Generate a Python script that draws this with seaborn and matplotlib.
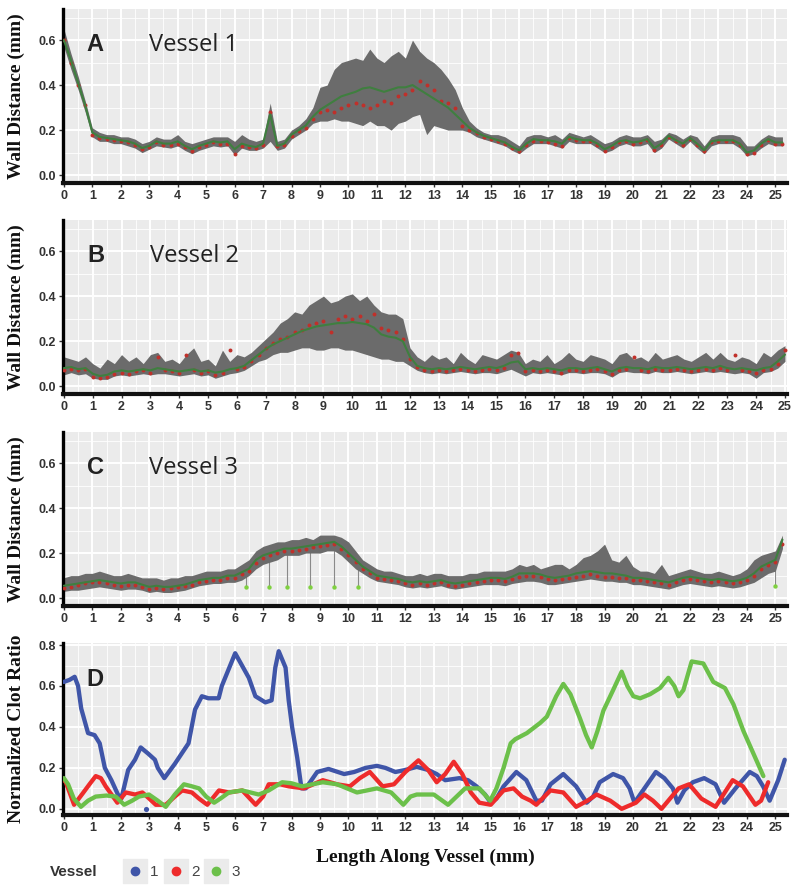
import numpy as np
import pandas as pd
import seaborn as sns
import matplotlib.pyplot as plt
from matplotlib.lines import Line2D
from matplotlib.ticker import MultipleLocator

# -----------------------------------------------------------------------------
# Wall distance along vessels (mm), sampled every 0.25 mm (read off the figure)
# -----------------------------------------------------------------------------

step = 0.25

# Vessel 1 (panel A), 0 .. 25.25 mm
a_mean = [0.60, 0.51, 0.41, 0.31, 0.19, 0.17, 0.165, 0.16, 0.155, 0.15,
          0.14, 0.12, 0.13, 0.15, 0.14, 0.14, 0.15, 0.13, 0.115, 0.13,
          0.14, 0.15, 0.145, 0.15, 0.115, 0.14, 0.13, 0.125, 0.14, 0.27,
          0.13, 0.14, 0.18, 0.20, 0.22, 0.26, 0.29, 0.31, 0.33, 0.35,
          0.36, 0.37, 0.385, 0.39, 0.38, 0.37, 0.38, 0.39, 0.39, 0.40,
          0.38, 0.36, 0.34, 0.32, 0.30, 0.27, 0.24, 0.21, 0.19, 0.175,
          0.165, 0.155, 0.145, 0.125, 0.11, 0.14, 0.16, 0.155, 0.155, 0.15,
          0.14, 0.17, 0.16, 0.155, 0.155, 0.14, 0.115, 0.13, 0.15, 0.155,
          0.145, 0.15, 0.16, 0.12, 0.14, 0.175, 0.155, 0.14, 0.165, 0.14,
          0.11, 0.15, 0.155, 0.155, 0.155, 0.14, 0.10, 0.11, 0.14, 0.16,
          0.145, 0.145]
a_hi = [0.65, 0.54, 0.44, 0.33, 0.21, 0.19, 0.18, 0.18, 0.17, 0.17,
        0.16, 0.14, 0.15, 0.17, 0.16, 0.16, 0.18, 0.15, 0.14, 0.15,
        0.16, 0.17, 0.17, 0.17, 0.15, 0.18, 0.16, 0.15, 0.16, 0.32,
        0.15, 0.16, 0.20, 0.22, 0.25, 0.30, 0.39, 0.40, 0.47, 0.50,
        0.51, 0.52, 0.51, 0.56, 0.52, 0.50, 0.53, 0.55, 0.52, 0.60,
        0.55, 0.52, 0.50, 0.47, 0.43, 0.38, 0.30, 0.24, 0.21, 0.19,
        0.18, 0.18, 0.17, 0.15, 0.13, 0.17, 0.18, 0.18, 0.17, 0.18,
        0.16, 0.19, 0.18, 0.17, 0.18, 0.16, 0.14, 0.15, 0.17, 0.18,
        0.17, 0.17, 0.18, 0.15, 0.16, 0.19, 0.18, 0.16, 0.18, 0.17,
        0.13, 0.17, 0.18, 0.18, 0.18, 0.17, 0.13, 0.13, 0.16, 0.18,
        0.17, 0.17]
a_lo = [0.57, 0.47, 0.38, 0.28, 0.17, 0.15, 0.15, 0.14, 0.14, 0.13,
        0.12, 0.10, 0.115, 0.13, 0.125, 0.12, 0.13, 0.11, 0.095, 0.11,
        0.12, 0.13, 0.125, 0.13, 0.09, 0.12, 0.11, 0.11, 0.12, 0.15,
        0.11, 0.12, 0.16, 0.18, 0.20, 0.23, 0.24, 0.24, 0.25, 0.24,
        0.24, 0.23, 0.22, 0.24, 0.22, 0.22, 0.20, 0.23, 0.24, 0.26,
        0.27, 0.18, 0.22, 0.21, 0.20, 0.20, 0.20, 0.19, 0.17, 0.16,
        0.15, 0.14, 0.13, 0.11, 0.095, 0.12, 0.14, 0.14, 0.14, 0.13,
        0.12, 0.15, 0.14, 0.14, 0.14, 0.12, 0.10, 0.11, 0.13, 0.14,
        0.13, 0.13, 0.14, 0.10, 0.12, 0.16, 0.14, 0.12, 0.15, 0.12,
        0.095, 0.13, 0.14, 0.14, 0.14, 0.12, 0.085, 0.095, 0.12, 0.14,
        0.13, 0.13]
a_red = [0.60, 0.50, 0.40, 0.31, 0.18, 0.165, 0.16, 0.155, 0.15, 0.145,
         0.135, 0.115, 0.125, 0.145, 0.135, 0.135, 0.14, 0.125, 0.105, 0.125,
         0.135, 0.145, 0.14, 0.14, 0.095, 0.13, 0.125, 0.12, 0.135, 0.28,
         0.13, 0.135, 0.175, 0.195, 0.21, 0.25, 0.28, 0.29, 0.28, 0.30,
         0.31, 0.32, 0.31, 0.30, 0.31, 0.33, 0.32, 0.35, 0.36, 0.38,
         0.42, 0.40, 0.38, 0.33, 0.32, 0.30, 0.22, 0.20, 0.185, 0.17,
         0.16, 0.15, 0.14, 0.12, 0.105, 0.135, 0.15, 0.15, 0.145, 0.14,
         0.13, 0.165, 0.155, 0.15, 0.15, 0.135, 0.105, 0.125, 0.145, 0.15,
         0.14, 0.145, 0.155, 0.11, 0.135, 0.17, 0.15, 0.135, 0.16, 0.135,
         0.105, 0.145, 0.15, 0.15, 0.15, 0.135, 0.095, 0.10, 0.135, 0.155,
         0.14, 0.14]

# Vessel 2 (panel B), 0 .. 25 mm
b_mean = [0.08, 0.085, 0.075, 0.08, 0.055, 0.045, 0.05, 0.065, 0.07, 0.065,
          0.07, 0.075, 0.07, 0.08, 0.075, 0.07, 0.065, 0.07, 0.075, 0.065,
          0.07, 0.06, 0.065, 0.075, 0.08, 0.09, 0.115, 0.14, 0.165, 0.185,
          0.20, 0.215, 0.23, 0.245, 0.255, 0.265, 0.27, 0.275, 0.28, 0.28,
          0.285, 0.28, 0.275, 0.26, 0.23, 0.22, 0.215, 0.20, 0.13, 0.09,
          0.08, 0.075, 0.08, 0.075, 0.08, 0.085, 0.08, 0.075, 0.08, 0.085,
          0.08, 0.09, 0.105, 0.11, 0.075, 0.08, 0.075, 0.08, 0.075, 0.07,
          0.08, 0.08, 0.075, 0.08, 0.085, 0.075, 0.065, 0.08, 0.085, 0.08,
          0.08, 0.075, 0.085, 0.08, 0.08, 0.085, 0.08, 0.075, 0.08, 0.085,
          0.08, 0.09, 0.08, 0.075, 0.08, 0.075, 0.07, 0.08, 0.085, 0.11,
          0.14]
b_hi = [0.13, 0.12, 0.11, 0.13, 0.10, 0.08, 0.12, 0.10, 0.14, 0.11,
        0.13, 0.10, 0.14, 0.15, 0.11, 0.12, 0.10, 0.14, 0.17, 0.11,
        0.12, 0.09, 0.16, 0.11, 0.14, 0.13, 0.15, 0.18, 0.21, 0.24,
        0.28, 0.30, 0.33, 0.32, 0.36, 0.38, 0.40, 0.37, 0.38, 0.40,
        0.41, 0.38, 0.40, 0.36, 0.33, 0.32, 0.32, 0.30, 0.17, 0.13,
        0.11, 0.14, 0.12, 0.13, 0.10, 0.15, 0.12, 0.10, 0.14, 0.13,
        0.12, 0.14, 0.16, 0.15, 0.10, 0.12, 0.11, 0.14, 0.10, 0.12,
        0.15, 0.12, 0.11, 0.14, 0.13, 0.12, 0.10, 0.14, 0.15, 0.12,
        0.13, 0.11, 0.15, 0.12, 0.13, 0.14, 0.12, 0.11, 0.13, 0.15,
        0.12, 0.15, 0.12, 0.11, 0.13, 0.12, 0.10, 0.15, 0.13, 0.16,
        0.18]
b_lo = [0.05, 0.06, 0.05, 0.055, 0.035, 0.03, 0.03, 0.045, 0.05, 0.045,
        0.05, 0.055, 0.05, 0.055, 0.055, 0.05, 0.045, 0.05, 0.055, 0.045,
        0.05, 0.035, 0.045, 0.055, 0.06, 0.07, 0.09, 0.11, 0.12, 0.14,
        0.15, 0.15, 0.16, 0.17, 0.17, 0.16, 0.16, 0.17, 0.17, 0.16,
        0.16, 0.15, 0.14, 0.13, 0.12, 0.12, 0.11, 0.11, 0.09, 0.07,
        0.06, 0.055, 0.06, 0.055, 0.06, 0.065, 0.06, 0.055, 0.06, 0.06,
        0.055, 0.065, 0.075, 0.06, 0.045, 0.06, 0.055, 0.06, 0.055, 0.05,
        0.06, 0.06, 0.055, 0.06, 0.06, 0.055, 0.04, 0.06, 0.065, 0.06,
        0.06, 0.055, 0.065, 0.06, 0.06, 0.065, 0.06, 0.055, 0.06, 0.065,
        0.06, 0.065, 0.06, 0.055, 0.06, 0.055, 0.035, 0.06, 0.065, 0.08,
        0.11]
b_red = [0.07, 0.075, 0.07, 0.075, 0.04, 0.035, 0.04, 0.055, 0.06, 0.055,
         0.065, 0.07, 0.06, 0.13, 0.07, 0.065, 0.06, 0.14, 0.07, 0.06,
         0.065, 0.05, 0.06, 0.16, 0.075, 0.085, 0.11, 0.14, 0.17, 0.19,
         0.21, 0.22, 0.24, 0.25, 0.27, 0.28, 0.29, 0.24, 0.30, 0.31,
         0.30, 0.31, 0.29, 0.32, 0.26, 0.25, 0.24, 0.21, 0.12, 0.085,
         0.07, 0.065, 0.07, 0.065, 0.07, 0.075, 0.07, 0.065, 0.07, 0.075,
         0.07, 0.08, 0.14, 0.145, 0.065, 0.07, 0.065, 0.07, 0.065, 0.06,
         0.07, 0.07, 0.065, 0.07, 0.075, 0.065, 0.055, 0.07, 0.075, 0.13,
         0.07, 0.065, 0.075, 0.07, 0.07, 0.075, 0.07, 0.065, 0.07, 0.075,
         0.07, 0.08, 0.07, 0.14, 0.07, 0.065, 0.06, 0.07, 0.075, 0.10,
         0.16]

# Vessel 3 (panel C), 0 .. 25.25 mm
c_mean = [0.055, 0.06, 0.065, 0.07, 0.075, 0.08, 0.075, 0.07, 0.065, 0.07,
          0.07, 0.06, 0.05, 0.055, 0.05, 0.05, 0.055, 0.06, 0.07, 0.08,
          0.085, 0.09, 0.09, 0.10, 0.10, 0.115, 0.13, 0.17, 0.19, 0.20,
          0.21, 0.22, 0.22, 0.225, 0.23, 0.235, 0.24, 0.245, 0.25, 0.23,
          0.20, 0.17, 0.14, 0.12, 0.10, 0.095, 0.09, 0.085, 0.075, 0.07,
          0.075, 0.07, 0.075, 0.08, 0.07, 0.065, 0.07, 0.075, 0.08, 0.085,
          0.09, 0.09, 0.085, 0.095, 0.11, 0.11, 0.11, 0.105, 0.095, 0.09,
          0.095, 0.10, 0.11, 0.115, 0.12, 0.115, 0.11, 0.11, 0.105, 0.10,
          0.09, 0.09, 0.085, 0.08, 0.075, 0.07, 0.08, 0.09, 0.095, 0.09,
          0.085, 0.08, 0.085, 0.08, 0.075, 0.08, 0.09, 0.11, 0.14, 0.155,
          0.17, 0.26]
c_hi = [0.09, 0.10, 0.10, 0.11, 0.11, 0.12, 0.11, 0.10, 0.10, 0.11,
        0.10, 0.09, 0.09, 0.09, 0.08, 0.09, 0.09, 0.10, 0.10, 0.11,
        0.12, 0.12, 0.12, 0.13, 0.13, 0.15, 0.17, 0.21, 0.23, 0.24,
        0.25, 0.25, 0.26, 0.26, 0.27, 0.26, 0.28, 0.28, 0.28, 0.27,
        0.25, 0.21, 0.17, 0.15, 0.13, 0.12, 0.12, 0.11, 0.10, 0.10,
        0.11, 0.10, 0.11, 0.11, 0.10, 0.10, 0.10, 0.11, 0.11, 0.12,
        0.12, 0.12, 0.12, 0.13, 0.15, 0.14, 0.15, 0.13, 0.14, 0.15,
        0.15, 0.13, 0.15, 0.18, 0.19, 0.21, 0.24, 0.17, 0.16, 0.19,
        0.14, 0.12, 0.12, 0.11, 0.15, 0.10, 0.11, 0.12, 0.13, 0.12,
        0.11, 0.11, 0.12, 0.11, 0.10, 0.11, 0.13, 0.17, 0.19, 0.20,
        0.21, 0.28]
c_lo = [0.03, 0.035, 0.035, 0.04, 0.045, 0.05, 0.045, 0.04, 0.035, 0.04,
        0.04, 0.035, 0.025, 0.03, 0.025, 0.025, 0.03, 0.035, 0.045, 0.055,
        0.06, 0.065, 0.065, 0.07, 0.07, 0.08, 0.10, 0.13, 0.15, 0.16,
        0.17, 0.19, 0.19, 0.19, 0.20, 0.20, 0.20, 0.21, 0.21, 0.19,
        0.16, 0.13, 0.11, 0.09, 0.075, 0.07, 0.065, 0.06, 0.05, 0.045,
        0.05, 0.045, 0.05, 0.055, 0.045, 0.04, 0.045, 0.05, 0.055, 0.06,
        0.06, 0.06, 0.055, 0.065, 0.07, 0.075, 0.075, 0.07, 0.06, 0.06,
        0.065, 0.07, 0.075, 0.08, 0.085, 0.08, 0.075, 0.075, 0.07, 0.07,
        0.06, 0.06, 0.055, 0.05, 0.045, 0.04, 0.05, 0.06, 0.065, 0.06,
        0.055, 0.05, 0.055, 0.05, 0.045, 0.05, 0.06, 0.07, 0.09, 0.11,
        0.12, 0.22]
c_red = [0.045, 0.05, 0.06, 0.065, 0.07, 0.07, 0.065, 0.06, 0.055, 0.06,
         0.06, 0.05, 0.04, 0.045, 0.04, 0.045, 0.05, 0.055, 0.06, 0.07,
         0.075, 0.08, 0.08, 0.09, 0.09, 0.105, 0.12, 0.155, 0.18, 0.19,
         0.20, 0.21, 0.21, 0.215, 0.22, 0.225, 0.23, 0.235, 0.24, 0.22,
         0.19, 0.16, 0.13, 0.11, 0.09, 0.085, 0.08, 0.075, 0.065, 0.06,
         0.065, 0.06, 0.065, 0.07, 0.06, 0.055, 0.06, 0.065, 0.07, 0.075,
         0.08, 0.08, 0.075, 0.085, 0.095, 0.10, 0.10, 0.095, 0.085, 0.08,
         0.085, 0.09, 0.095, 0.10, 0.105, 0.10, 0.095, 0.095, 0.09, 0.09,
         0.08, 0.08, 0.075, 0.07, 0.065, 0.06, 0.07, 0.08, 0.085, 0.08,
         0.075, 0.07, 0.075, 0.07, 0.065, 0.07, 0.08, 0.10, 0.13, 0.145,
         0.16, 0.24]
# drop-outs in vessel 3 (points that fall to the floor)
c_drop_x = [6.4, 7.2, 7.85, 8.65, 9.5, 10.35, 25.0]
c_drop_y = [0.05, 0.05, 0.05, 0.05, 0.05, 0.05, 0.055]
c_drop_top = [0.12, 0.20, 0.22, 0.235, 0.25, 0.15, 0.17]

# -----------------------------------------------------------------------------
# Normalized clot ratio (panel D)
# -----------------------------------------------------------------------------

clot1_x = [0.0, 0.2, 0.38, 0.5, 0.61, 0.85, 1.08, 1.26, 1.44, 1.67, 1.9, 2.02,
           2.26, 2.5, 2.7, 2.96, 3.2, 3.3, 3.53, 3.9, 4.38, 4.61, 4.85, 5.08,
           5.44, 5.55, 6.02, 6.5, 6.73, 7.08, 7.3, 7.43, 7.55, 7.79, 7.9, 8.02,
           8.2, 8.35, 8.5, 8.7, 8.9, 9.3, 9.85, 10.2, 10.6, 11.0, 11.3, 11.65,
           12.0, 12.4, 12.8, 13.1, 13.4, 13.9, 14.2, 14.5, 14.8, 15.0, 15.2,
           15.45, 15.9, 16.25, 16.6, 16.8, 17.1, 17.55, 18.0, 18.37, 18.6,
           18.83, 19.3, 19.65, 19.88, 20.05, 20.3, 20.8, 21.1, 21.4, 21.56,
           21.8, 22.1, 22.5, 22.9, 23.2, 23.6, 24.1, 24.35, 24.57, 24.8, 25.1,
           25.33]
clot1_y = [0.62, 0.63, 0.645, 0.60, 0.49, 0.37, 0.36, 0.32, 0.20, 0.14, 0.07, 0.05,
           0.19, 0.24, 0.30, 0.27, 0.24, 0.20, 0.15, 0.22, 0.32, 0.485, 0.55, 0.54,
           0.54, 0.60, 0.76, 0.64, 0.55, 0.52, 0.53, 0.69, 0.77, 0.69, 0.53, 0.40,
           0.25, 0.10, 0.10, 0.14, 0.18, 0.195, 0.17, 0.18, 0.20, 0.21, 0.20, 0.18,
           0.19, 0.205, 0.19, 0.17, 0.14, 0.15, 0.14, 0.11, 0.07, 0.03, 0.05,
           0.11, 0.18, 0.14, 0.04, 0.04, 0.12, 0.17, 0.11, 0.03, 0.06,
           0.13, 0.17, 0.15, 0.10, 0.03, 0.08, 0.18, 0.15, 0.10, 0.03,
           0.09, 0.13, 0.15, 0.12, 0.03, 0.10, 0.18, 0.16, 0.11, 0.04, 0.14,
           0.24]
clot1_stray_x = [2.88]
clot1_stray_y = [0.0]

clot2_x = [0.0, 0.07, 0.36, 0.66, 0.9, 1.12, 1.3, 1.47, 1.88, 2.18, 2.5, 2.76,
           3.0, 3.23, 3.58, 3.9, 4.16, 4.5, 4.75, 5.04, 5.45, 5.8, 6.27, 6.74,
           7.0, 7.2, 7.6, 7.9, 8.43, 9.1, 9.6, 10.05, 10.4, 10.75, 11.2, 11.6,
           12.0, 12.46, 12.8, 13.1, 13.4, 13.7, 14.0, 14.3, 14.6, 15.0, 15.45,
           15.8, 16.1, 16.4, 16.6, 17.1, 17.55, 18.0, 18.4, 18.72, 19.2, 19.6,
           20.1, 20.4, 20.7, 21.0, 21.6, 21.97, 22.4, 22.9, 23.5, 23.86, 24.3,
           24.5, 24.75]
clot2_y = [0.14, 0.13, 0.02, 0.075, 0.12, 0.16, 0.15, 0.11, 0.03, 0.08, 0.07, 0.08,
           0.05, 0.02, 0.02, 0.06, 0.09, 0.08, 0.05, 0.02, 0.09, 0.08, 0.09, 0.02,
           0.06, 0.12, 0.12, 0.11, 0.10, 0.14, 0.12, 0.11, 0.15, 0.18, 0.11, 0.12,
           0.18, 0.237, 0.19, 0.13, 0.17, 0.23, 0.17, 0.08, 0.03, 0.02, 0.09,
           0.10, 0.06, 0.04, 0.02, 0.09, 0.08, 0.01, 0.04, 0.07, 0.04, 0.0,
           0.03, 0.07, 0.04, 0.0, 0.10, 0.12, 0.05, 0.01, 0.14, 0.11, 0.02,
           0.04, 0.13]

clot3_x = [0.0, 0.15, 0.35, 0.6, 0.85, 1.12, 1.5, 1.82, 2.12, 2.4, 2.64, 2.99,
           3.3, 3.58, 3.9, 4.22, 4.5, 4.75, 5.0, 5.28, 5.5, 5.8, 6.27, 6.85,
           7.2, 7.67, 8.0, 8.37, 9.1, 9.6, 10.3, 11.0, 11.5, 11.93, 12.18, 12.4,
           13.0, 13.5, 14.1, 14.6, 14.98, 15.2, 15.45, 15.7, 15.86, 16.27,
           16.74, 16.97, 17.3, 17.55, 17.8, 18.14, 18.35, 18.55, 18.75, 18.96,
           19.3, 19.6, 19.8, 20.01, 20.25, 20.6, 20.95, 21.24, 21.45, 21.6,
           21.77, 22.06, 22.47, 22.82, 23.23, 23.53, 23.88, 24.23, 24.58]
clot3_y = [0.15, 0.12, 0.05, 0.01, 0.04, 0.06, 0.065, 0.06, 0.02, 0.04, 0.06, 0.07,
           0.04, 0.01, 0.07, 0.12, 0.11, 0.10, 0.06, 0.03, 0.05, 0.08, 0.09, 0.07,
           0.09, 0.13, 0.125, 0.11, 0.13, 0.12, 0.08, 0.10, 0.08, 0.02, 0.06, 0.07,
           0.07, 0.02, 0.10, 0.10, 0.04, 0.10, 0.20, 0.32, 0.34, 0.37,
           0.42, 0.45, 0.55, 0.61, 0.56, 0.44, 0.36, 0.30, 0.38, 0.48,
           0.58, 0.67, 0.60, 0.55, 0.54, 0.56, 0.59, 0.64, 0.60, 0.55,
           0.58, 0.72, 0.71, 0.62, 0.59, 0.51, 0.38, 0.27, 0.16]

vessel_labels = ["1", "2", "3"]

# -----------------------------------------------------------------------------
# Styling
# -----------------------------------------------------------------------------

sns.set_theme(style="darkgrid", rc={"axes.facecolor": "#ebebeb",
                                    "grid.color": "white"})
plt.rcParams["font.family"] = ["Liberation Sans", "DejaVu Sans"]

BAND = "#6b6b6b"
GREEN = "#3f7f3f"
RED = "#c0302a"
LIME = "#7fd040"
VCOL = ["#3f55a8", "#ee2b2b", "#6cc04a"]
TICK = "#333333"

W, H = 800, 885
fig = plt.figure(figsize=(W / 100, H / 100), dpi=100)


def add_panel(left, top, right, bottom):
    return fig.add_axes([left / W, 1 - bottom / H, (right - left) / W, (bottom - top) / H])


def style(ax, xmax, ylim, yticks, ylabel):
    ax.set_xlim(-0.03, xmax)
    ax.set_ylim(*ylim)
    ax.xaxis.set_minor_locator(MultipleLocator(0.5))
    ax.yaxis.set_minor_locator(MultipleLocator(0.1))
    ax.set_xticks(range(26))
    ax.set_xticklabels([str(v) for v in range(26)], fontweight="bold",
                       color=TICK, fontsize=9)
    ax.set_yticks(yticks)
    ax.set_yticklabels([f"{v:.1f}" for v in yticks], fontweight="bold",
                       color=TICK, fontsize=9)
    ax.grid(which="major", color="white", linewidth=1.4)
    ax.grid(which="minor", color="white", linewidth=0.6)
    ax.tick_params(which="major", length=3, width=1, color=TICK, pad=2,
                   bottom=True, left=True)
    ax.tick_params(which="minor", length=0)
    for side in ["top", "right"]:
        ax.spines[side].set_visible(False)
    ax.spines["left"].set_color("black")
    ax.spines["left"].set_linewidth(2.4)
    ax.spines["bottom"].set_color("#111111")
    ax.spines["bottom"].set_linewidth(3.0)
    ax.set_xlabel("")
    ax.set_ylabel(ylabel, family=["Liberation Serif"], fontweight="bold",
                  fontsize=14, color="#111111")
    ax.yaxis.set_label_coords(-0.052, 0.5)


def wall_panel(ax, mean, lo, hi, red, letter, name, xmax):
    x = np.arange(len(mean)) * step
    ax.fill_between(x, lo, hi, color=BAND, linewidth=0, zorder=2)
    sns.scatterplot(x=x, y=red, ax=ax, color=RED, s=8, linewidth=0, zorder=3)
    sns.lineplot(x=x, y=mean, ax=ax, color=GREEN, linewidth=1.5, zorder=4)
    style(ax, xmax, (-0.035, 0.738), [0.0, 0.2, 0.4, 0.6], "Wall Distance (mm)")
    ax.text(1.1, 0.58, letter, fontsize=17, fontweight="bold", ha="center",
            va="center", color="#222222")
    ax.text(3.0, 0.58, name, fontsize=17, family=["Open Sans"], ha="left",
            va="center", color="#222222")


ax_a = add_panel(63, 9, 787, 183)
wall_panel(ax_a, a_mean, a_lo, a_hi, a_red, "A", "Vessel 1", 25.41)

ax_b = add_panel(63, 220, 787, 394)
wall_panel(ax_b, b_mean, b_lo, b_hi, b_red, "B", "Vessel 2", 25.07)

ax_c = add_panel(63, 432, 787, 606)
ax_c.vlines(c_drop_x, c_drop_y, c_drop_top, color="#8a8a8a", linewidth=0.8, zorder=2)
wall_panel(ax_c, c_mean, c_lo, c_hi, c_red, "C", "Vessel 3", 25.41)
sns.scatterplot(x=c_drop_x, y=c_drop_y, ax=ax_c, color=LIME, s=10, linewidth=0, zorder=5)

# Panel D
ax_d = add_panel(63, 643, 787, 815)
clot_df = pd.concat([
    pd.DataFrame({"x": clot1_x, "y": clot1_y, "Vessel": "1"}),
    pd.DataFrame({"x": clot2_x, "y": clot2_y, "Vessel": "2"}),
    pd.DataFrame({"x": clot3_x, "y": clot3_y, "Vessel": "3"}),
])
sns.lineplot(data=clot_df, x="x", y="y", hue="Vessel", palette=VCOL,
             linewidth=3.1, ax=ax_d, legend=False, zorder=3)
sns.scatterplot(x=clot1_stray_x, y=clot1_stray_y, ax=ax_d, color=VCOL[0], s=14,
                linewidth=0, zorder=3)
style(ax_d, 25.41, (-0.03, 0.81), [0.0, 0.2, 0.4, 0.6, 0.8], "Normalized Clot Ratio")
ax_d.text(1.1, 0.63, "D", fontsize=17, fontweight="bold", ha="center",
          va="center", color="#222222")

fig.text(425 / W, 1 - 857 / H, "Length Along Vessel (mm)", ha="center", va="center",
         family=["Liberation Serif"], fontweight="bold", fontsize=14, color="#111111")

# Legend
fig.text(50 / W, 1 - 872 / H, "Vessel", ha="left", va="center", fontsize=11,
         fontweight="bold", color="#333333")
handles = [(Line2D([], [], marker="s", ms=17, color="#ebebeb", ls=""),
            Line2D([], [], marker="o", ms=6, color=c, ls="")) for c in VCOL]
fig.legend(handles, vessel_labels, ncol=3, loc="center left",
           bbox_to_anchor=(112 / W, 1 - 872 / H), frameon=False,
           handlelength=1.2, handletextpad=0.4, columnspacing=0.5,
           prop={"size": 11}, labelcolor="#444444")

fig.savefig("out.png", dpi=100)
plt.close(fig)
